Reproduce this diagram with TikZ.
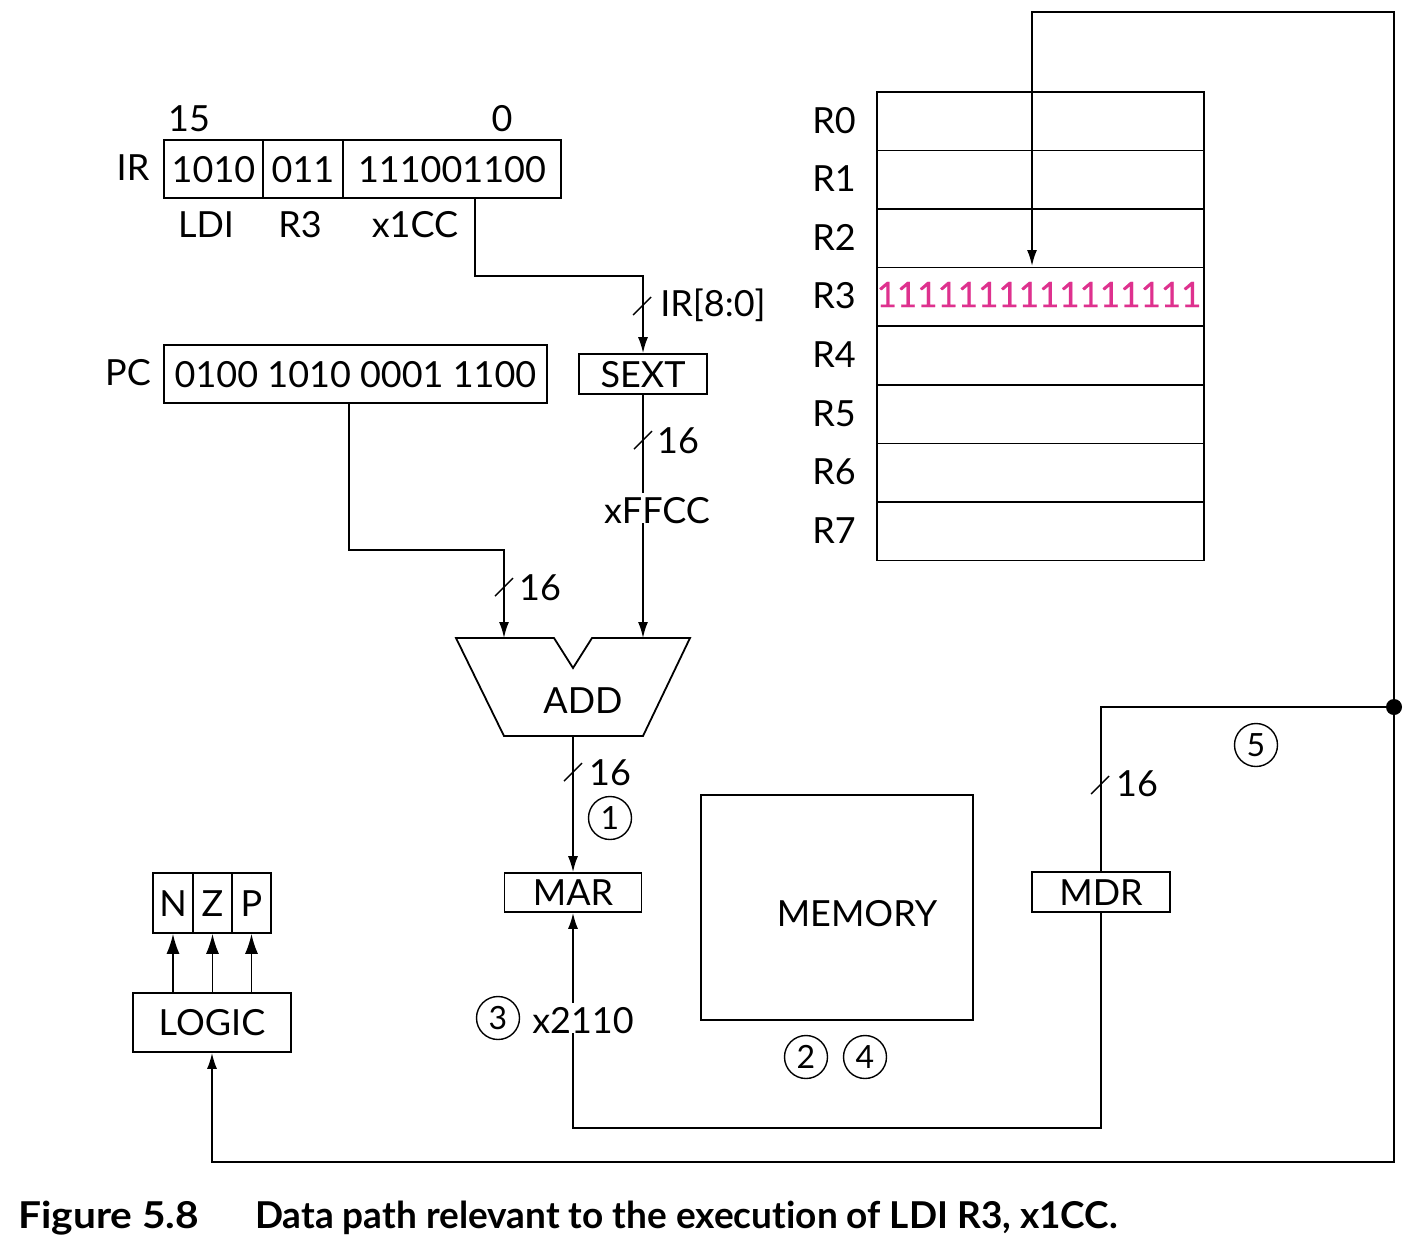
\documentclass[tikz,border=0pt]{standalone}
\usepackage{fontspec}
\setmainfont{Lato}[Ligatures=NoCommon]
\newfontfamily\regbold{Lato}[FakeBold=0.6]
\usetikzlibrary{arrows.meta,calc}
\definecolor{mag}{RGB}{222,49,142}
\begin{document}
\begin{tikzpicture}[x=1pt,y=-1pt,
  every node/.style={font=\fontsize{36}{40}\selectfont, inner sep=0pt, text height=26pt, text depth=0pt},
  box/.style={draw, line width=1.6pt, minimum height=58pt},
  wire/.style={line width=1.8pt},
  arr/.style={wire,-{Latex[length=16pt,width=10pt]}},
  bigarr/.style={wire,-{Latex[length=20pt,width=13pt]}},
  slash/.style={line width=1.4pt},
  circ/.style={draw, circle, line width=1.4pt, minimum size=43pt, font=\fontsize{32}{36}\selectfont, text height=23pt},
  capt/.style={anchor=west, font=\bfseries\fontsize{37}{42}\selectfont}]
\useasboundingbox (0,0) rectangle (1406,1240);

% IR
\node[box, minimum width=99pt] (ir1) at (213.5,169) {1010};
\node[box, minimum width=80pt] (ir2) at (303,169) {011};
\node[box, minimum width=218pt] (ir3) at (452,169) {111001100};
\node (irl) at (133,167) {IR};
\node (b15) at (189,118) {15};
\node (b0) at (502,118) {0};
\node (fldi) at (206,224) {LDI};
\node (fr3) at (300,224) {R3};
\node (fx) at (415,224) {x1CC};

% PC
\node[box, minimum width=383pt] (pc) at (355.5,374) {0100 1010 0001 1100};
\node (pcl) at (128,372) {PC};

% SEXT
\node[box, minimum width=128pt, minimum height=40pt] (sext) at (643,374) {SEXT};

% ADD
\coordinate (addL) at (504,638);
\coordinate (addR) at (643,638);
\coordinate (addout) at (573,736);
\draw[wire] (456,638) -- (554,638) -- (573,668) -- (592,638) -- (690,638) -- (643,736) -- (504,736) -- cycle;
\node (add) at (583,700) {ADD};

% MAR, MEMORY, MDR
\node[box, minimum width=137pt, minimum height=39pt] (mar) at (573,892.5) {MAR};
\node[box, minimum width=272pt, minimum height=225pt] (mem) at (837,907.5) {};
\node (memt) at (857,913) {MEMORY};
\node[box, minimum width=138pt, minimum height=40pt] (mdr) at (1101,892) {MDR};

% Register file
\foreach \i in {0,...,7}{
  \node[box, minimum width=327pt, minimum height=58.6pt, anchor=north west] (r\i) at (876,{91+58.6*\i}) {};
  \node (rl\i) at (834,{120+58.6*\i}) {R\i};
}
\node[text=mag, font=\regbold\fontsize{35}{40}\selectfont] (r3val) at (1039,294) {1111111111111111};

% NZP and LOGIC
\node[box, minimum width=40pt, minimum height=60pt] (n) at (173,903) {N};
\node[box, minimum width=39pt, minimum height=60pt] (z) at (212.5,903) {Z};
\node[box, minimum width=39pt, minimum height=60pt] (p) at (251.5,903) {P};
\node[box, minimum width=158pt, minimum height=59pt] (logic) at (212,1022.5) {LOGIC};
\draw[bigarr] (logic.north -| n) -- (n.south);
\draw[bigarr] (logic.north -| z) -- (z.south);
\draw[bigarr] (logic.north -| p) -- (p.south);

% wires
\coordinate (irout) at (475,198);
\coordinate (pcout) at (349,403);
\draw[arr] (irout) -- ++(0,78) -| (sext.north);
\draw[arr] (sext.south) -- (addR);
\node[fill=white, inner xsep=3pt, text height=30pt] (xffcc) at (657,508) {xFFCC};
\draw[arr] (pcout) -- ++(0,147) -| (addL);
\draw[arr] (addout) -- (mar.north);

\coordinate (dot) at (1394,707);
\coordinate (tr) at (1394,12);
\coordinate (br) at (1394,1162);
\coordinate (r3in) at (1032,266);
\draw[arr] (dot) -- (tr) -| (r3in);
\draw[arr] (dot) -- (br) -| (logic.south);
\draw[wire] (mdr.north) |- (dot);
\fill (dot) circle (8pt);
\draw[arr] (mdr.south) -- ++(0,215) -| (mar.south);
\node[fill=white, inner xsep=2pt, text height=30pt] (x2110) at (583,1018) {x2110};

% slashes
\foreach \sx/\sy in {642/306, 643/440, 504/587, 573/772, 1100/785}{
  \draw[slash] ($(\sx,\sy)+(-9,9)$) -- ++(18,-18);
}
\node (l1) at (713,303) {IR[8:0]};
\node (l2) at (678,440) {16};
\node (l3) at (540,587) {16};
\node (l4) at (610,772) {16};
\node (l5) at (1137,783) {16};

% step circles
\node[circ] (c1) at (610,818) {1};
\node[circ] (c2) at (806,1057) {2};
\node[circ] (c3) at (498,1018) {3};
\node[circ] (c4) at (865,1057) {4};
\node[circ] (c5) at (1256,745) {5};

% caption
\node[capt, xscale=1.1] (cap1) at (18,1215) {Figure 5.8};
\node[capt] (cap2) at (255,1215) {Data path relevant to the execution of LDI R3, x1CC.};
\end{tikzpicture}
\end{document}
